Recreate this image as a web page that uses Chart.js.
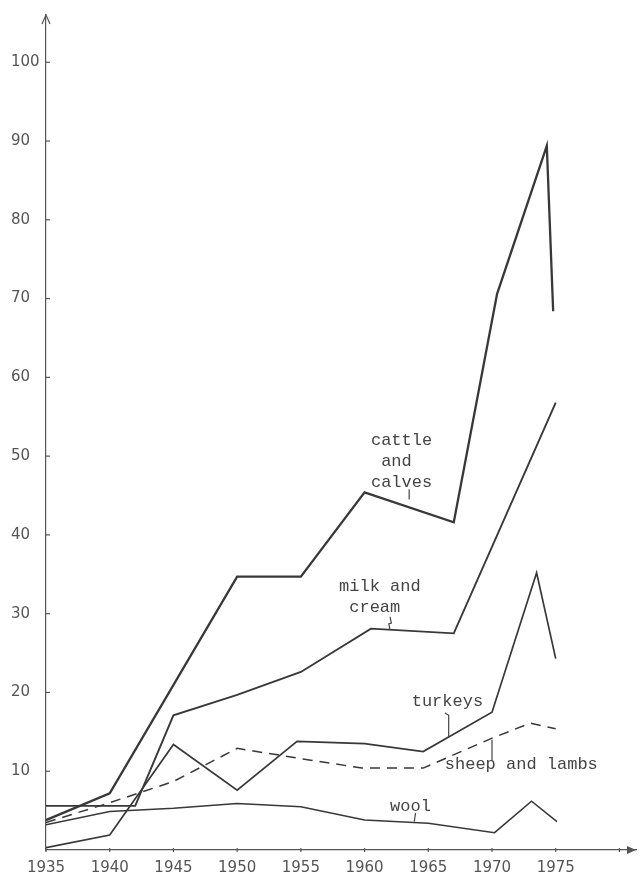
<!DOCTYPE html>
<html><head><meta charset="utf-8">
<style>html,body{margin:0;padding:0;background:#fff}canvas{display:block}</style>
<script src="https://cdn.jsdelivr.net/npm/chart.js@4.4.1/dist/chart.umd.min.js"></script>
</head><body>
<canvas id="c" width="640" height="882"></canvas>
<script>
// ---- data ----
const xTickYears  = [1935, 1940, 1945, 1950, 1955, 1960, 1965, 1970, 1975, 1980];
const xTickLabels = ['1935','1940','1945','1950','1955','1960','1965','1970','1975',''];
const yTickValues = [10, 20, 30, 40, 50, 60, 70, 80, 90, 100];

const cattleYears  = [1935, 1940, 1950, 1955, 1960, 1967, 1970.4, 1974.3, 1974.8];
const cattleValues = [3.8, 7.2, 34.7, 34.7, 45.4, 41.6, 70.6, 89.4, 68.4];

const milkYears  = [1935, 1942, 1945, 1950, 1955, 1960.5, 1967, 1975];
const milkValues = [5.6, 5.6, 17.1, 19.7, 22.6, 28.1, 27.5, 56.8];

const turkeyYears  = [1935, 1940, 1945, 1950, 1954.7, 1960, 1964.6, 1970, 1973.5, 1975];
const turkeyValues = [0.3, 1.9, 13.4, 7.6, 13.8, 13.5, 12.5, 17.5, 35.2, 24.3];

const sheepYears  = [1935, 1940, 1945, 1950, 1955, 1959.8, 1964.6, 1970, 1973, 1975];
const sheepValues = [3.5, 6.0, 8.7, 12.9, 11.6, 10.4, 10.4, 14.2, 16.1, 15.4];

const woolYears  = [1935, 1940, 1945, 1950, 1955, 1960, 1965, 1970.2, 1973.1, 1975.1];
const woolValues = [3.2, 4.9, 5.3, 5.9, 5.5, 3.8, 3.4, 2.2, 6.2, 3.6];

const seriesNames = ['cattle and calves', 'milk and cream', 'turkeys', 'sheep and lambs', 'wool'];

// ---- helpers ----
const pts = (xs, ys) => xs.map((x, i) => ({x, y: ys[i]}));
const INK = '#383838';

// annotation labels (anchor in data units, text lines)
const notes = [
  {lines: ['cattle', ' and', 'calves'], x: 1962.9, y: 52.0},
  {lines: ['milk and', ' cream'], x: 1961.2, y: 33.4},
  {lines: ['turkeys'], x: 1966.5, y: 18.8},
  {lines: ['sheep and lambs'], x: 1972.3, y: 10.8},
  {lines: ['wool'], x: 1963.6, y: 5.5}
];
// pointer strokes (data units)
const pointers = [
  [[1963.5, 45.8], [1963.5, 44.5]],
  [[1962.0, 29.6], [1962.1, 28.8], [1961.9, 28.7], [1962.0, 27.9]],
  [[1966.3, 17.4], [1966.6, 17.1], [1966.6, 14.3]],
  [[1970.0, 11.4], [1970.0, 14.0]],
  [[1964.0, 4.7], [1963.9, 3.6]]
];

const decor = {
  id: 'decor',
  afterDraw(chart) {
    const {ctx, chartArea: a, scales: {x, y}} = chart;
    ctx.save();
    ctx.strokeStyle = '#555';
    ctx.fillStyle = '#555';
    ctx.lineWidth = 1.2;
    // tick marks
    yTickValues.forEach(v => {
      const py = y.getPixelForValue(v);
      ctx.beginPath(); ctx.moveTo(a.left - 1, py); ctx.lineTo(a.left + 4, py); ctx.stroke();
    });
    xTickYears.forEach(v => {
      const px = x.getPixelForValue(v);
      ctx.beginPath(); ctx.moveTo(px, a.bottom - 2); ctx.lineTo(px, a.bottom + 2); ctx.stroke();
    });
    // arrows
    ctx.beginPath();
    ctx.moveTo(a.left - 4, a.top + 9); ctx.lineTo(a.left, a.top); ctx.lineTo(a.left + 4, a.top + 9);
    ctx.stroke();
    ctx.beginPath();
    ctx.moveTo(a.right - 9, a.bottom - 4); ctx.lineTo(a.right, a.bottom); ctx.lineTo(a.right - 9, a.bottom + 4);
    ctx.closePath(); ctx.fill();

    // notes
    ctx.fillStyle = '#444';
    ctx.font = '17px "Liberation Mono", "DejaVu Sans Mono", monospace';
    ctx.textBaseline = 'middle';
    ctx.textAlign = 'left';
    notes.forEach(n => {
      const px = x.getPixelForValue(n.x);
      const py = y.getPixelForValue(n.y);
      const w = Math.max(...n.lines.map(l => ctx.measureText(l).width));
      n.lines.forEach((l, i) => ctx.fillText(l, px - w / 2, py + i * 21));
    });
    ctx.strokeStyle = '#444';
    ctx.lineWidth = 1.2;
    pointers.forEach(p => {
      ctx.beginPath();
      p.forEach(([vx, vy], i) => {
        const px = x.getPixelForValue(vx), py = y.getPixelForValue(vy);
        if (i === 0) ctx.moveTo(px, py); else ctx.lineTo(px, py);
      });
      ctx.stroke();
    });
    ctx.restore();
  }
};

const tickFont = {family: 'DejaVu Sans', size: 15};

new Chart(document.getElementById('c'), {
  type: 'line',
  data: {
    datasets: [
      {label: seriesNames[0], data: pts(cattleYears, cattleValues), borderColor: INK, borderWidth: 2.3},
      {label: seriesNames[1], data: pts(milkYears, milkValues), borderColor: INK, borderWidth: 1.9},
      {label: seriesNames[2], data: pts(turkeyYears, turkeyValues), borderColor: INK, borderWidth: 1.7},
      {label: seriesNames[3], data: pts(sheepYears, sheepValues), borderColor: INK, borderWidth: 1.5, borderDash: [10, 7]},
      {label: seriesNames[4], data: pts(woolYears, woolValues), borderColor: INK, borderWidth: 1.5}
    ]
  },
  options: {
    responsive: false,
    animation: false,
    elements: {point: {radius: 0}, line: {tension: 0, fill: false, borderJoinStyle: 'miter'}},
    plugins: {legend: {display: false}, tooltip: {enabled: false}},
    layout: {padding: {left: 11, top: 15, right: 4, bottom: 0}},
    scales: {
      x: {
        type: 'linear', min: 1935, max: 1981.3,
        afterBuildTicks: s => { s.ticks = xTickYears.map(v => ({value: v})); },
        afterFit: s => { s.height = 32; },
        grid: {display: false, drawTicks: false},
        border: {display: true, color: '#555', width: 1.2},
        ticks: {
          padding: 9, color: '#555', font: tickFont, maxRotation: 0, autoSkip: false,
          callback: v => { const i = xTickYears.indexOf(v); return i >= 0 ? xTickLabels[i] : ''; }
        }
      },
      y: {
        type: 'linear', min: 0, max: 106,
        afterBuildTicks: s => { s.ticks = yTickValues.map(v => ({value: v})); },
        afterFit: s => { s.width = 35; },
        grid: {display: false, drawTicks: false},
        border: {display: true, color: '#555', width: 1.2},
        ticks: {crossAlign: 'far', padding: 4, color: '#555', font: tickFont, autoSkip: false}
      }
    }
  },
  plugins: [decor]
});
</script>
</body></html>
